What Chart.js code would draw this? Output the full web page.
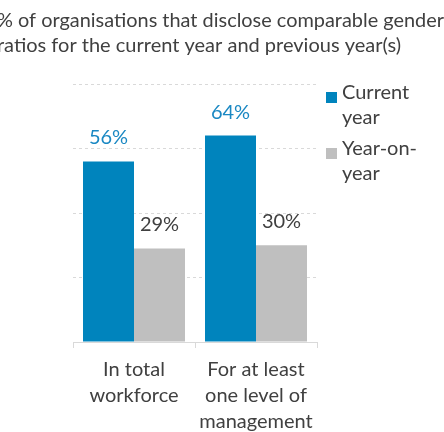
<!DOCTYPE html>
<html>
<head>
<meta charset="utf-8">
<script src="https://cdn.jsdelivr.net/npm/chart.js@4"></script>
<style>
  html, body { margin: 0; padding: 0; background: #fff; overflow: hidden; }
  #wrap { position: absolute; left: -3px; top: 0; width: 447px; height: 432px; }
</style>
</head>
<body>
<div id="wrap"><canvas id="chart"></canvas></div>
<script>
// Chart content
const titleLines = [
  '% of organisations that disclose comparable gender',
  'ratios for the current year and previous year(s)'
];
const categories = [
  ['In total', 'workforce'],
  ['For at least', 'one level of', 'management']
];
const seriesNames = ['Current year', 'Year-on-year'];
const legendLines = [['Current', 'year'], ['Year-on-', 'year']];
const currentYear = [56, 64];
const yearOnYear = [29, 30];
const yAxisMax = 80;
const yAxisStep = 20;

// Styling
const FONT = 'Lato';
const FONT_SIZE = 20;
const TEXT = '#404040';
const GRID = '#d9d9d9';
const barColors = ['#0084bd', '#bfbfbf'];
const valueColors = ['#1a88c3', '#404040'];

// Percentage labels above each bar
const valueLabels = {
  id: 'valueLabels',
  afterDatasetsDraw(chart) {
    const ctx = chart.ctx;
    ctx.save();
    ctx.font = FONT_SIZE + 'px ' + FONT;
    ctx.textAlign = 'center';
    ctx.textBaseline = 'alphabetic';
    chart.data.datasets.forEach((ds, di) => {
      chart.getDatasetMeta(di).data.forEach((bar, i) => {
        ctx.fillStyle = valueColors[di];
        ctx.fillText(ds.data[i] + '%', bar.x, bar.y - 17);
      });
    });
    ctx.restore();
  }
};

// Legend on the right with wrapped series names
const sideLegend = {
  id: 'sideLegend',
  afterDraw(chart) {
    const { ctx, chartArea } = chart;
    const x0 = chartArea.right + 9;
    let y = chartArea.top + 8;
    ctx.save();
    ctx.font = FONT_SIZE + 'px ' + FONT;
    ctx.textAlign = 'left';
    ctx.textBaseline = 'alphabetic';
    legendLines.forEach((lines, i) => {
      ctx.fillStyle = chart.data.datasets[i].backgroundColor;
      ctx.fillRect(x0, y, 11, 11);
      ctx.fillStyle = TEXT;
      lines.forEach((t, k) => ctx.fillText(t, x0 + 16, y + 7 + k * 25));
      y += 56;
    });
    ctx.restore();
  }
};

new Chart(document.getElementById('chart'), {
  type: 'bar',
  data: {
    labels: categories,
    datasets: [
      { label: seriesNames[0], data: currentYear, backgroundColor: barColors[0], borderWidth: 0,
        categoryPercentage: 0.836, barPercentage: 1 },
      { label: seriesNames[1], data: yearOnYear, backgroundColor: barColors[1], borderWidth: 0,
        categoryPercentage: 0.836, barPercentage: 1 }
    ]
  },
  options: {
    responsive: true,
    maintainAspectRatio: false,
    devicePixelRatio: 1,
    animation: false,
    events: [],
    layout: { padding: 0 },
    plugins: {
      legend: { display: false },
      tooltip: { enabled: false },
      title: {
        display: true,
        text: titleLines,
        align: 'start',
        color: TEXT,
        font: { family: FONT, size: FONT_SIZE, weight: 'normal', lineHeight: 25 / FONT_SIZE },
        padding: { top: 8, bottom: 26 }
      }
    },
    scales: {
      x: {
        grid: { offset: true, drawOnChartArea: false, drawTicks: true, tickLength: 6, color: GRID, lineWidth: 1 },
        border: { display: true, color: GRID, width: 1 },
        ticks: { color: TEXT, font: { family: FONT, size: FONT_SIZE, lineHeight: 26 / FONT_SIZE }, padding: 9,
                 maxRotation: 0, autoSkip: false },
        afterFit(scale) { scale.height = 90; }
      },
      y: {
        min: 0,
        max: yAxisMax,
        ticks: { display: false, stepSize: yAxisStep },
        grid: { drawTicks: false, lineWidth: 1,
                color: c => (c.tick && c.tick.value === 0) ? 'rgba(0,0,0,0)' : GRID },
        border: { display: false, dash: [3, 3] },
        afterFit(scale) { scale.width = 76; }
      },
      side: {
        position: 'right',
        display: true,
        grid: { display: false, drawTicks: false },
        ticks: { display: false },
        border: { display: false },
        afterFit(scale) { scale.width = 127; }
      }
    }
  },
  plugins: [valueLabels, sideLegend]
});
</script>
</body>
</html>
